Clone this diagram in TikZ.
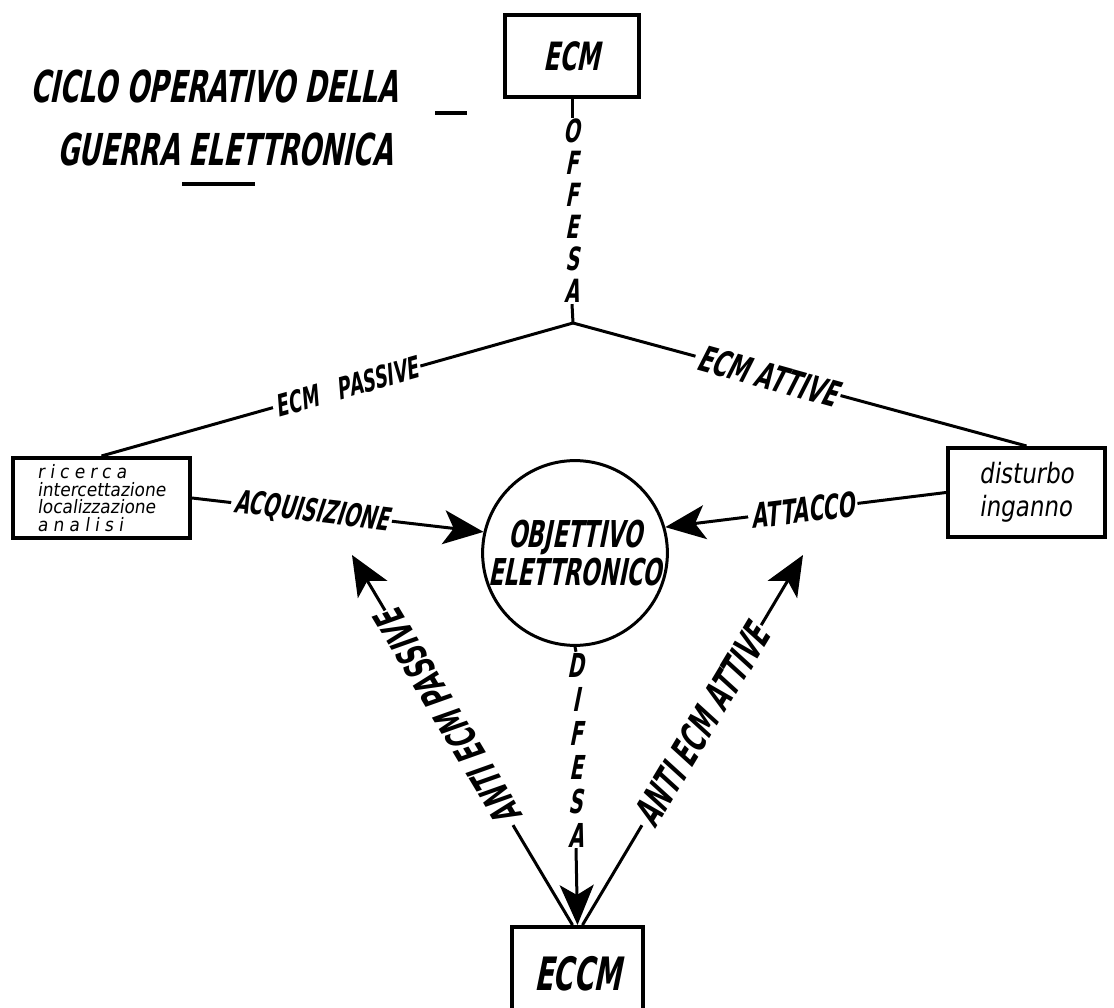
\documentclass[tikz,border=0pt]{standalone}
\usepackage{fontspec}
\newfontfamily\handfont{DejaVu Sans}[FakeSlant=0.2,FakeStretch=0.6]
\newfontfamily\handlow{DejaVu Sans}[FakeSlant=0.15,FakeStretch=0.92]
\newfontfamily\handmid{DejaVu Sans}[FakeSlant=0.15,FakeStretch=0.82]
\usetikzlibrary{arrows.meta}
\newcommand\hcaps[2]{\handfont\bfseries\fontsize{#1}{#2}\selectfont}
\newcommand\hlow[2]{\handlow\fontsize{#1}{#2}\selectfont}
\newcommand\hmid[2]{\handmid\fontsize{#1}{#2}\selectfont}
\tikzset{
  box/.style={draw, line width=4pt, inner sep=0pt},
  conn/.style={line width=3pt},
  bigarrow/.style={conn, -{Stealth[length=40pt,width=34pt,inset=10pt]}},
  lbl/.style={fill=white, inner sep=3pt},
  stack/.style={fill=white, inner sep=1pt, align=center},
}
\begin{document}
\begin{tikzpicture}[x=1pt,y=-1pt]
\useasboundingbox (0,0) rectangle (1114,1008);
\fill[white] (0,0) rectangle (1114,1008);
\clip (0,0) rectangle (1114,1008);

% title
\node[anchor=base west, inner sep=0pt, font=\hcaps{44}{50}] (t1) at (30,103) {CICLO OPERATIVO DELLA};
\node[anchor=base west, inner sep=0pt, font=\hcaps{44}{50}] (t2) at (57,166) {GUERRA ELETTRONICA};
\draw[line width=4pt] (182,184) -- (255,184);
\draw[line width=4pt] (435,113) -- (467,113);

% nodes
\node[box, minimum width=134pt, minimum height=82pt, font=\hcaps{39}{42}] (ecm) at (572,56) {ECM};
\node[box, minimum width=177pt, minimum height=80pt, align=left, font=\hlow{18.5}{17.5}] (lb) at (101.5,498)
  {{\addfontfeature{LetterSpace=28}ricerca}\\intercettazione\\localizzazione\\{\addfontfeature{LetterSpace=28}analisi}};
\node[box, minimum width=157pt, minimum height=89pt, align=left, font=\hmid{28}{33}] (rb) at (1026.5,492.5) {disturbo\\inganno};
\node[draw, circle, conn, minimum size=184pt, inner sep=0pt, align=center, font=\hcaps{37}{38}] (obj) at (575,553) {OBJETTIVO\\ELETTRONICO};
\node[box, minimum width=131pt, minimum height=93pt, font=\hcaps{46}{48}] (eccm) at (577.5,973.5) {ECCM};

\coordinate (j) at (573,323);
\coordinate (tipL) at (352,555);
\coordinate (tipR) at (803,555);

% offesa
\node[stack, font=\hcaps{32}{32}] (off) at (572,211) {O\\F\\F\\E\\S\\A};
\draw[conn] (ecm.south) -- (off.north);
\draw[conn] (off.south) -- (j);

% ECM branches
\draw[conn] (j) -- node[lbl, rotate=15.8, pos=0.48, font=\hcaps{30}{32}] {ECM\hspace{20pt}PASSIVE} (lb.north);
\draw[conn] (j) -- node[lbl, rotate=-15.5, pos=0.43, font=\hcaps{36}{38}] {ECM ATTIVE} (rb.north);

% acquisizione / attacco
\draw[bigarrow] (lb.east) -- node[lbl, rotate=-6.8, pos=0.41, font=\hcaps{32}{34}] {ACQUISIZIONE} (obj.167);
\draw[bigarrow] (rb.west) -- node[lbl, rotate=7.1, pos=0.51, font=\hcaps{34}{36}] {ATTACCO} (obj.16);

% difesa
\node[stack, font=\hcaps{33}{34}] (dif) at (576,750) {D\\I\\F\\E\\S\\A};
\draw[conn] (obj.south) -- (dif.north);
\draw[bigarrow] (dif.south) -- (eccm.north);

% anti ECM
\draw[bigarrow] ([xshift=-5pt]eccm.north) -- node[lbl, rotate=120.9, pos=0.56, font=\hcaps{39}{40}] {ANTI ECM PASSIVE} (tipL);
\draw[bigarrow] ([xshift=5pt]eccm.north) -- node[lbl, rotate=59.0, pos=0.54, font=\hcaps{39}{40}] {ANTI ECM ATTIVE} (tipR);
\end{tikzpicture}
\end{document}
